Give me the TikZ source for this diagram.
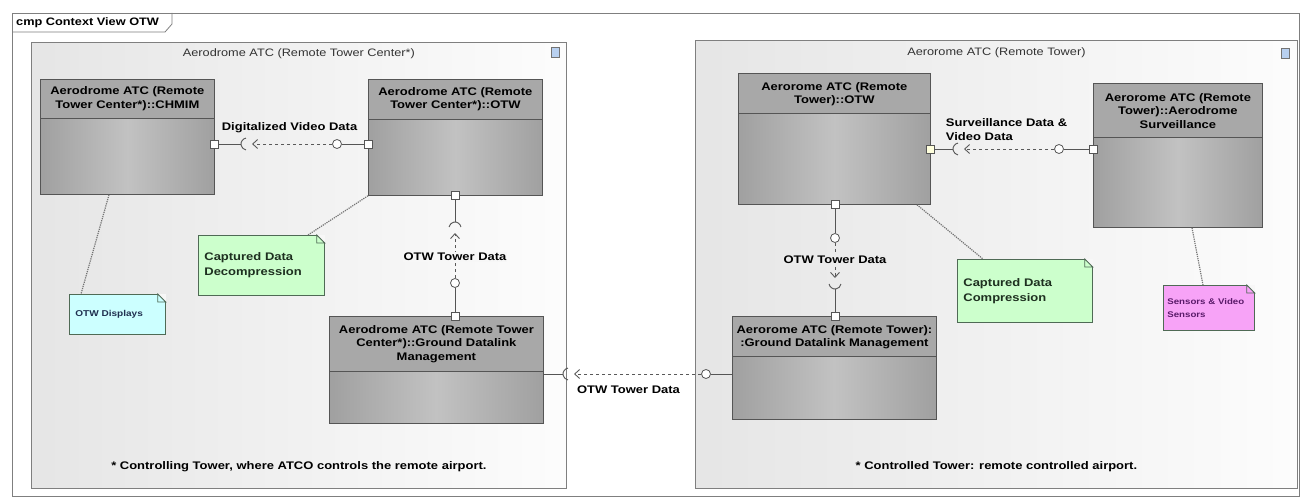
\documentclass[tikz,border=0pt]{standalone}
\usepackage{fontspec}
\setmainfont{Liberation Sans}[FakeStretch=1.18]
\usetikzlibrary{arrows.meta,positioning}
\definecolor{cmphead}{HTML}{A8A8A8}
\definecolor{cmpdark}{HTML}{A0A0A0}
\definecolor{cmplight}{HTML}{C2C2C2}
\definecolor{cmpline}{HTML}{555555}
\definecolor{contline}{HTML}{7F7F7F}
\definecolor{notegreen}{HTML}{CCFFCC}
\definecolor{notecyan}{HTML}{CCFFFF}
\definecolor{notepink}{HTML}{F7A3F7}
\definecolor{noteline}{HTML}{4F6A55}
\definecolor{notetext}{HTML}{1E3020}
\definecolor{dispblue}{HTML}{1F3050}
\definecolor{sensviolet}{HTML}{5A1A6A}
\definecolor{portyel}{HTML}{FFFFDD}
\definecolor{iconblue}{HTML}{B8D0F0}
\tikzset{
    outerframe/.style = {draw=contline, line width=0.8pt},
    container/.style = {draw=contline, line width=0.8pt, left color=black!10, right color=black!1, anchor=north west, inner sep=0pt},
    conttitle/.style = {font=\fontsize{10.8}{12}\selectfont, text=black!80, inner sep=1pt},
    compbox/.style = {draw=cmpline, line width=0.8pt, anchor=north west, inner sep=0pt, left color=cmpdark, right color=cmpdark, middle color=cmplight,
        path picture={\fill[cmphead] (path picture bounding box.north west) rectangle ([yshift=-#1]path picture bounding box.north east);
            \draw[cmpline, line width=0.8pt] ([yshift=-#1]path picture bounding box.north west) -- ([yshift=-#1]path picture bounding box.north east);}},
    comptitle/.style = {font=\bfseries\fontsize{11}{13.5}\selectfont, align=center, inner sep=0pt},
    portbox/.style = {draw=cmpline, fill=white, line width=0.8pt, minimum size=8pt, inner sep=0pt},
    ballnode/.style = {circle, draw=cmpline, fill=white, line width=0.8pt, minimum size=9pt, inner sep=0pt},
    assem/.style = {draw=cmpline, line width=0.9pt},
    deparrow/.style = {draw=black!65, line width=0.8pt, dash pattern=on 3.5pt off 2.5pt, shorten >=5pt, -{Straight Barb[length=5pt, width=9pt, line width=0.9pt]}},
    conlbl/.style = {font=\bfseries\fontsize{11}{13.5}\selectfont, inner sep=1pt},
    notebox/.style = {draw=noteline, line width=0.8pt, anchor=north west, align=left, inner xsep=6pt, text=notetext, font=\bfseries\fontsize{11}{15}\selectfont},
    notefold/.style = {draw=noteline, line width=0.8pt},
    anchorline/.style = {draw=black!55, line width=1.2pt, densely dotted},
    foottext/.style = {font=\bfseries\fontsize{11}{12}\selectfont, inner sep=1pt},
    iconbox/.style = {draw=black!55, fill=iconblue, line width=0.6pt, minimum width=8pt, minimum height=10pt, inner sep=0pt}
}
\begin{document}
\begin{tikzpicture}[x=1pt, y=-1pt]
\useasboundingbox (0,0) rectangle (1304,500);
\fill[white] (0,0) rectangle (1304,500);
\draw[outerframe, fill=white] (12,13) rectangle (1299,496);
\draw[outerframe] (12,32) -- (165,32) -- (172,24) -- (172,13);
\node (diagtab) [anchor=west, inner sep=0pt, font=\bfseries\fontsize{10.8}{12}\selectfont] at (16,23) {cmp Context View OTW};

\node (rtc) [container, minimum width=535pt, minimum height=446pt] at (31,42) {};
\node (rt) [container, minimum width=602pt, minimum height=448pt] at (695,40) {};
\node (rtctitle) [conttitle] at (rtc.north |- 0,54) {Aerodrome ATC (Remote Tower Center*)};
\node (rttitle) [conttitle] at (rt.north |- 0,53) {Aerorome ATC (Remote Tower)};
\node (rtcicon) [iconbox] at (555,52) {};
\node (rticon) [iconbox] at (1285,53) {};
\node (rtcfoot) [foottext] at (rtc.north |- 0,467) {* Controlling Tower, where ATCO controls the remote airport.};
\node (rtfoot) [foottext] at (rt.north |- 0,467) {* Controlled Tower: remote controlled airport.};

\node (chmim) [compbox=39pt, minimum width=174pt, minimum height=115pt] at (40,79) {};
\node (otwc) [compbox=40pt, minimum width=174pt, minimum height=116pt] at (368,79) {};
\node (gdlc) [compbox=55pt, minimum width=214pt, minimum height=107pt] at (329,316) {};
\node (otwr) [compbox=40pt, minimum width=192pt, minimum height=131pt] at (738,73) {};
\node (surv) [compbox=54pt, minimum width=169pt, minimum height=144pt] at (1093,83) {};
\node (gdlr) [compbox=40pt, minimum width=204pt, minimum height=103pt] at (732,316) {};

\node (chmimtitle) [comptitle] at ([yshift=-19.5pt]chmim.north) {Aerodrome ATC (Remote\\Tower Center*)::CHMIM};
\node (otwctitle) [comptitle] at ([yshift=-20pt]otwc.north) {Aerodrome ATC (Remote\\Tower Center*)::OTW};
\node (gdlctitle) [comptitle] at ([yshift=-28pt]gdlc.north) {Aerodrome ATC (Remote Tower\\Center*)::Ground Datalink\\Management};
\node (otwrtitle) [comptitle] at ([yshift=-21pt]otwr.north) {Aerorome ATC (Remote\\Tower)::OTW};
\node (survtitle) [comptitle] at ([yshift=-28pt]surv.north) {Aerorome ATC (Remote\\Tower)::Aerodrome\\Surveillance};
\node (gdlrtitle) [comptitle] at ([yshift=-21pt]gdlr.north) {Aerorome ATC (Remote Tower):\\:Ground Datalink Management};

\node (p1) [portbox] at (chmim.east |- 0,144) {};
\node (p2) [portbox] at (otwc.west |- 0,144) {};
\node (p3) [portbox] at (otwc.south -| 455,0) {};
\node (p4) [portbox] at (gdlc.north -| 455,0) {};
\node (p5) [portbox, fill=portyel] at (otwr.east |- 0,149) {};
\node (p6) [portbox] at (surv.west |- 0,149) {};
\node (p7) [portbox] at (otwr.south -| 835,0) {};
\node (p8) [portbox] at (gdlr.north -| 835,0) {};

\node (b1) [ballnode] at (337,144) {};
\node (b2) [ballnode] at (455,283) {};
\node (b3) [ballnode] at (1059,149) {};
\node (b4) [ballnode] at (835,238) {};
\node (b5) [ballnode] at (706,374) {};

\coordinate (s1) at (247,144);
\coordinate (s2) at (455,228);
\coordinate (s3) at (959,149);
\coordinate (s4) at (835,283);
\coordinate (s5) at (569,374);

\draw [assem] ([shift={(100:6pt)}]s1) arc[start angle=100, end angle=260, radius=6pt];
\draw [assem] ([shift={(10:6pt)}]s2) arc[start angle=10, end angle=170, radius=6pt];
\draw [assem] ([shift={(100:6pt)}]s3) arc[start angle=100, end angle=260, radius=6pt];
\draw [assem] ([shift={(190:6pt)}]s4) arc[start angle=190, end angle=350, radius=6pt];
\draw [assem] ([shift={(100:6pt)}]s5) arc[start angle=100, end angle=260, radius=6pt];

\draw [assem] (p1) -- ([xshift=-6pt]s1);
\draw [assem] (p2) -- (b1);
\draw [assem] (p3) -- ([yshift=6pt]s2);
\draw [assem] (b2) -- (p4);
\draw [assem] (p5) -- ([xshift=-6pt]s3);
\draw [assem] (b3) -- (p6);
\draw [assem] (p7) -- (b4);
\draw [assem] ([yshift=-6pt]s4) -- (p8);
\draw [assem] (gdlc.east |- s5) -- ([xshift=-6pt]s5);
\draw [assem] (b5) -- (gdlr.west |- b5);

\draw [deparrow] (b1) -- node (vidlbl) [conlbl, above=10pt] {Digitalized Video Data} (s1);
\draw [deparrow] (b2) -- node (towlblc) [conlbl, fill=black!3, pos=0.42] {OTW Tower Data} (s2);
\draw [deparrow] (b3) -- node (survlbl) [conlbl, above=7pt, align=left] {Surveillance Data \&\\Video Data} (s3);
\draw [deparrow] (b4) -- node (towlblr) [conlbl, fill=black!8, pos=0.42] {OTW Tower Data} (s4);
\draw [deparrow] (b5) -- node (linklbl) [conlbl, below=10pt, pos=0.55] {OTW Tower Data} (s5);

\node (dispnote) [notebox, fill=notecyan, minimum width=96pt, minimum height=40pt, text width=84pt, text=dispblue, font=\bfseries\fontsize{8.5}{10}\selectfont] at (69,294) {OTW Displays};
\node (decnote) [notebox, fill=notegreen, minimum width=126pt, minimum height=60pt, text width=114pt] at (198,235) {Captured Data\\Decompression};
\node (compnote) [notebox, fill=notegreen, minimum width=135pt, minimum height=63pt, text width=123pt] at (957,259) {Captured Data\\Compression};
\node (sensnote) [notebox, fill=notepink, minimum width=91pt, minimum height=45pt, inner xsep=4pt, text width=83pt, text=sensviolet, font=\bfseries\fontsize{8.2}{13}\selectfont] at (1163,285) {Sensors \& Video\\Sensors};

\foreach \n in {dispnote,decnote,compnote,sensnote} {
    \fill [black!3] ([xshift=-8pt]\n.north east) -- (\n.north east) -- ([yshift=-8pt]\n.north east) -- cycle;
    \draw [notefold] ([xshift=-8pt]\n.north east) -- ([xshift=-8pt,yshift=-8pt]\n.north east) -- ([yshift=-8pt]\n.north east) -- cycle;
}

\draw [anchorline] (chmim.south -| 109,0) -- (dispnote.north -| 81,0);
\draw [anchorline] (otwc.south west) -- (decnote.north -| 308,0);
\draw [anchorline] (otwr.south -| 917,0) -- (compnote.north -| 983,0);
\draw [anchorline] (surv.south -| 1192,0) -- (sensnote.north -| 1203,0);
\end{tikzpicture}
\end{document}
